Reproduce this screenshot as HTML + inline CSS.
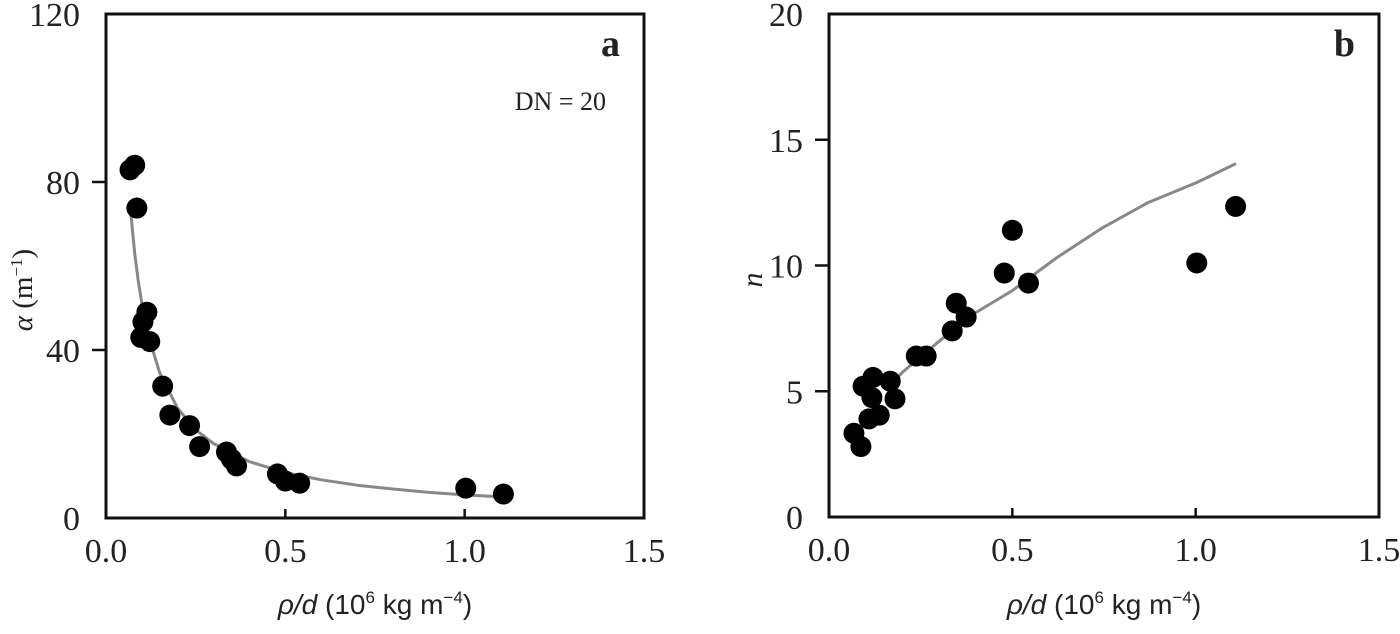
<!DOCTYPE html>
<html><head><meta charset="utf-8"><style>
html,body{margin:0;padding:0;background:#fff;width:1400px;height:634px;overflow:hidden}
svg{display:block}
text{font-family:"Liberation Serif",serif;fill:#222}
</style></head><body>
<svg id="chart" width="1400" height="634" viewBox="0 0 1400 634" xmlns="http://www.w3.org/2000/svg"></svg>
<script>
const aX=[0.067,0.08,0.086,0.114,0.103,0.097,0.122,0.158,0.178,0.233,0.261,0.336,0.35,0.364,0.478,0.5,0.54,1.003,1.108];
const aY=[82.9,84,73.8,49,46.7,43,42,31.4,24.5,22,17,15.7,14,12.4,10.5,8.8,8.3,7.1,5.7];
const aFitX=[0.07,0.08,0.09,0.1,0.12,0.15,0.2,0.25,0.3,0.4,0.5,0.6,0.7,0.8,0.9,1.0,1.11];
const aFitY=[71.9,63,56.4,51,42.8,34.5,26.1,21,17.7,13.4,10.8,9.1,7.8,6.9,6.1,5.5,5.0];
const bX=[0.068,0.087,0.093,0.12,0.117,0.109,0.137,0.167,0.18,0.238,0.265,0.336,0.347,0.374,0.478,0.5,0.544,1.003,1.109];
const bY=[3.33,2.8,5.2,5.55,4.75,3.9,4.05,5.4,4.7,6.4,6.4,7.4,8.5,7.95,9.7,11.4,9.3,10.1,12.35];
const bFitX=[0.172,0.2,0.281,0.38,0.5,0.62,0.746,0.87,1.003,1.11];
const bFitY=[5.3,5.75,6.75,7.95,9.0,10.3,11.5,12.5,13.3,14.05];
const xTicks=["0.0","0.5","1.0","1.5"];
const aYTicks=["0","40","80","120"];
const bYTicks=["0","5","10","15","20"];

const NS="http://www.w3.org/2000/svg";
const svg=document.getElementById('chart');
function mk(tag,attrs,parent){const e=document.createElementNS(NS,tag);for(const k in attrs)e.setAttribute(k,attrs[k]);(parent||svg).appendChild(e);return e;}

function panel(p){
  const g=mk('g',{});
  
  
  const sx=v=>p.x0+v*(p.x1-p.x0)/1.5;
  const sy=v=>p.y0-v*(p.y0-p.y1)/p.ymax;
  const fr=mk('rect',{x:p.x0,y:p.y1,width:p.x1-p.x0,height:p.y0-p.y1,fill:'none',stroke:'#111','stroke-width':3},g);
  
  
  xTicks.forEach((t,i)=>{
    const v=parseFloat(t);const x=sx(v);
    if(i>0&&i<xTicks.length-1){const l=mk('line',{x1:x,x2:x,y1:p.y0,y2:p.y0-9,stroke:'#111','stroke-width':2.5},g);
      }
    const tx=mk('text',{x:x,y:p.y0+44,'text-anchor':'middle','font-size':34},g);tx.textContent=t;
    
  });
  p.yt.forEach((t,i)=>{
    const v=parseFloat(t);const y=sy(v);
    if(i>0&&i<p.yt.length-1){const l=mk('line',{x1:p.x0,x2:p.x0-14,y1:y,y2:y,stroke:'#111','stroke-width':2.5},g);
      }
    const tx=mk('text',{x:p.x0-26,y:y+12,'text-anchor':'end','font-size':34},g);tx.textContent=t;
    
  });
  const d=p.fx.map((v,i)=>(i?'L':'M')+sx(v).toFixed(1)+','+sy(p.fy[i]).toFixed(1)).join(' ');
  const c=mk('path',{d:d,fill:'none',stroke:'#888','stroke-width':3,'stroke-linejoin':'round'},g);
  
  p.px.forEach((v,i)=>{
    const ci=mk('circle',{cx:sx(v),cy:sy(p.py[i]),r:10.5,fill:'#000'},g);
    
    
  });
  const xt=mk('text',{x:(p.x0+p.x1)/2,y:614,'text-anchor':'middle','font-size':28},g);
  
  xt.innerHTML='<tspan font-family="Liberation Sans, sans-serif" font-style="italic">ρ/d</tspan><tspan font-family="Liberation Sans, sans-serif"> (10</tspan><tspan font-family="Liberation Sans, sans-serif" font-size="17" dy="-11">6</tspan><tspan font-family="Liberation Sans, sans-serif" dy="11"> kg m</tspan><tspan font-family="Liberation Sans, sans-serif" font-size="17" dy="-11">−4</tspan><tspan font-family="Liberation Sans, sans-serif" dy="11">)</tspan>';
  const pl=mk('text',{x:p.x1-24,y:56,'text-anchor':'end','font-size':38,'font-weight':'bold'},g);
  pl.textContent=p.label;
  return {g,sx,sy};
}
const A=panel({name:'panel-a',x0:106,x1:644,y0:518,y1:14,ymax:120,yt:aYTicks,px:aX,py:aY,fx:aFitX,fy:aFitY,label:'a'});
const dn=mk('text',{x:606,y:110,'text-anchor':'end','font-size':26},A.g);dn.textContent='DN = 20';

const ya=mk('text',{transform:'translate(32,290) rotate(-90)','text-anchor':'middle','font-size':29},A.g);
ya.innerHTML='<tspan font-style="italic">α</tspan> (m<tspan font-size="17" dy="-10">−1</tspan><tspan dy="10">)</tspan>';

const B=panel({name:'panel-b',x0:829,x1:1379,y0:517,y1:14,ymax:20,yt:bYTicks,px:bX,py:bY,fx:bFitX,fy:bFitY,label:'b'});
const yb=mk('text',{transform:'translate(762,280) rotate(-90)','text-anchor':'middle','font-size':30,'font-style':'italic'},B.g);
yb.textContent='n';
</script>
</body></html>
